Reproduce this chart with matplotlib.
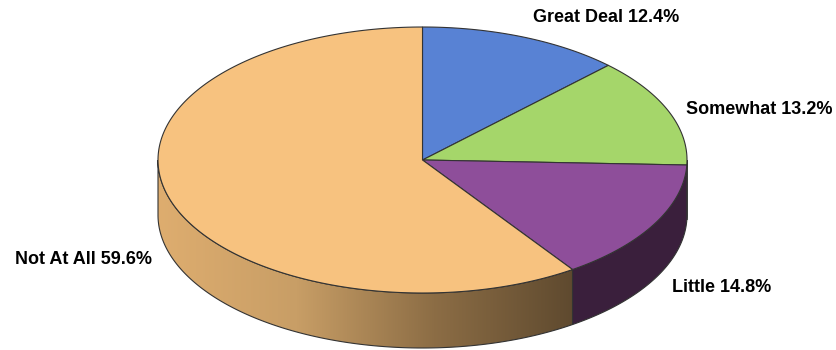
import numpy as np
import matplotlib
matplotlib.use("Agg")
import matplotlib.pyplot as plt
from matplotlib.patches import Polygon
from matplotlib.colors import LinearSegmentedColormap

labels = ["Great Deal", "Somewhat", "Little", "Not At All"]
values = [12.4, 13.2, 14.8, 59.6]
top_colors = ["#5882d4", "#a5d66a", "#8e4e9a", "#f7c27f"]
side_colors = ["#2f4a80", "#5e7e3a", "#3a1f3c", None]

W, H = 837, 350
fig = plt.figure(figsize=(W / 100, H / 100), dpi=100)
ax = fig.add_axes([0, 0, 1, 1])
ax.set_xlim(0, W)
ax.set_ylim(H, 0)
ax.axis("off")

cx, cy, rx, ry, depth = 422.5, 160.0, 264.5, 133.0, 55.0
edge = "#333333"
lw = 0.8


def pt(t, dy=0.0):
    r = np.radians(t)
    return cx + rx * np.cos(r), cy - ry * np.sin(r) + dy


def arc(t0, t1, dy=0.0, n=200):
    ts = np.linspace(t0, t1, n)
    return np.array([pt(t, dy) for t in ts])


# slice angles (clockwise from 12 o'clock)
bounds = [90.0]
for v in values:
    bounds.append(bounds[-1] - v / 100 * 360)

grad = LinearSegmentedColormap.from_list("g", ["#dead6f", "#c89e66", "#8c6d45", "#5f4a2f"])

# sides
for i in range(len(values)):
    a0, a1 = bounds[i], bounds[i + 1]
    # visible front is t in [-180, 0]
    s0, s1 = min(a0, 0.0), max(a1, -180.0)
    if s0 <= s1:
        continue
    top = arc(s0, s1)
    bot = arc(s1, s0, depth)
    poly = np.vstack([top, bot])
    if side_colors[i] is None:
        p = Polygon(poly, closed=True, facecolor="none", edgecolor=edge, lw=lw, zorder=3)
        ax.add_patch(p)
        xmin, xmax = poly[:, 0].min(), poly[:, 0].max()
        ymin, ymax = poly[:, 1].min(), poly[:, 1].max()
        g = np.linspace(0, 1, 256).reshape(1, -1)
        im = ax.imshow(g, cmap=grad, extent=[xmin, xmax, ymax, ymin], aspect="auto", zorder=2,
                       interpolation="bilinear")
        im.set_clip_path(p)
        ax.set_xlim(0, W)
        ax.set_ylim(H, 0)
    else:
        ax.add_patch(Polygon(poly, closed=True, facecolor=side_colors[i], edgecolor=edge, lw=lw, zorder=3))

# tops
for i in range(len(values)):
    a0, a1 = bounds[i], bounds[i + 1]
    pts = np.vstack([[cx, cy], arc(a0, a1)])
    ax.add_patch(Polygon(pts, closed=True, facecolor=top_colors[i], edgecolor=edge, lw=lw, zorder=4))

label_pos = [(533, 18, "left"), (686, 110, "left"), (672, 287, "left"), (152, 259, "right")]
fam = ["Liberation Sans Narrow", "Liberation Sans", "DejaVu Sans"]
for (x, y, ha), lab, v in zip(label_pos, labels, values):
    ax.text(x, y, f"{lab} {v:.1f}%", ha=ha, va="center", fontsize=13, fontweight="bold",
            family=fam, color="#000000", zorder=5)

fig.savefig("out.png", dpi=100, facecolor="white")
